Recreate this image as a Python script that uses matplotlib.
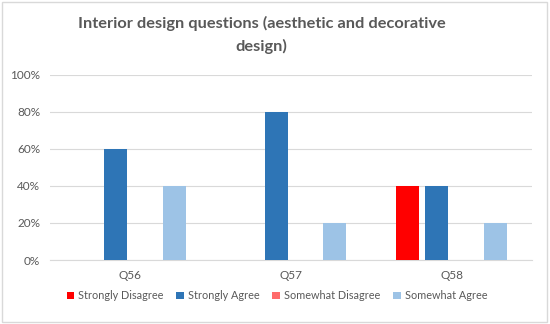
import numpy as np
import matplotlib.pyplot as plt
from matplotlib.patches import Rectangle
from matplotlib.ticker import PercentFormatter

plt.rcParams['font.family'] = ['Lato', 'DejaVu Sans']

questions = ['Q56', 'Q57', 'Q58']
series = ['Strongly Disagree', 'Strongly Agree', 'Somewhat Disagree', 'Somewhat Agree']
strongly_disagree = [0, 0, 40]
strongly_agree = [60, 80, 40]
somewhat_disagree = [0, 0, 0]
somewhat_agree = [40, 20, 20]
colors = ['#FF0000', '#2E75B6', '#FF6B6B', '#9DC3E6']

values = [strongly_disagree, strongly_agree, somewhat_disagree, somewhat_agree]

fig = plt.figure(figsize=(5.5, 3.24), dpi=100)
ax = fig.add_axes([0.091, 0.1975, 0.876, 0.5715])

x = np.arange(len(questions))
width = 0.143
step = 0.182
for i, (name, vals) in enumerate(zip(series, values)):
    ax.bar(x + (i - 1.5) * step, vals, width, color=colors[i], label=name, zorder=3)

ax.set_xlim(-0.5, 2.5)
ax.set_ylim(0, 100)
ax.set_yticks(range(0, 101, 20))
ax.yaxis.set_major_formatter(PercentFormatter(decimals=0))
ax.set_xticks(x)
ax.set_xticklabels(questions)
ax.grid(axis='y', color='#D9D9D9', linewidth=0.8, zorder=0)
for s in ['top', 'right', 'left']:
    ax.spines[s].set_visible(False)
ax.spines['bottom'].set_color('#D9D9D9')
ax.tick_params(length=0, labelsize=8.5, colors='#595959', pad=7)

fig.text(0.476, 0.892, 'Interior design questions (aesthetic and decorative\ndesign)',
         ha='center', va='center', fontsize=11.8, fontweight='bold', color='#595959',
         linespacing=1.6)

ax.legend(loc='upper center', bbox_to_anchor=(0.471, -0.11), ncol=4, frameon=False,
          fontsize=7.8, labelcolor='#595959', handlelength=0.7, handleheight=0.7,
          handletextpad=0.4, columnspacing=1.15)

fig.patches.append(Rectangle((0.004, 0.006), 0.99, 0.988, transform=fig.transFigure,
                             fill=False, edgecolor='#D9D9D9', linewidth=1))

fig.savefig('out.png', dpi=100)
